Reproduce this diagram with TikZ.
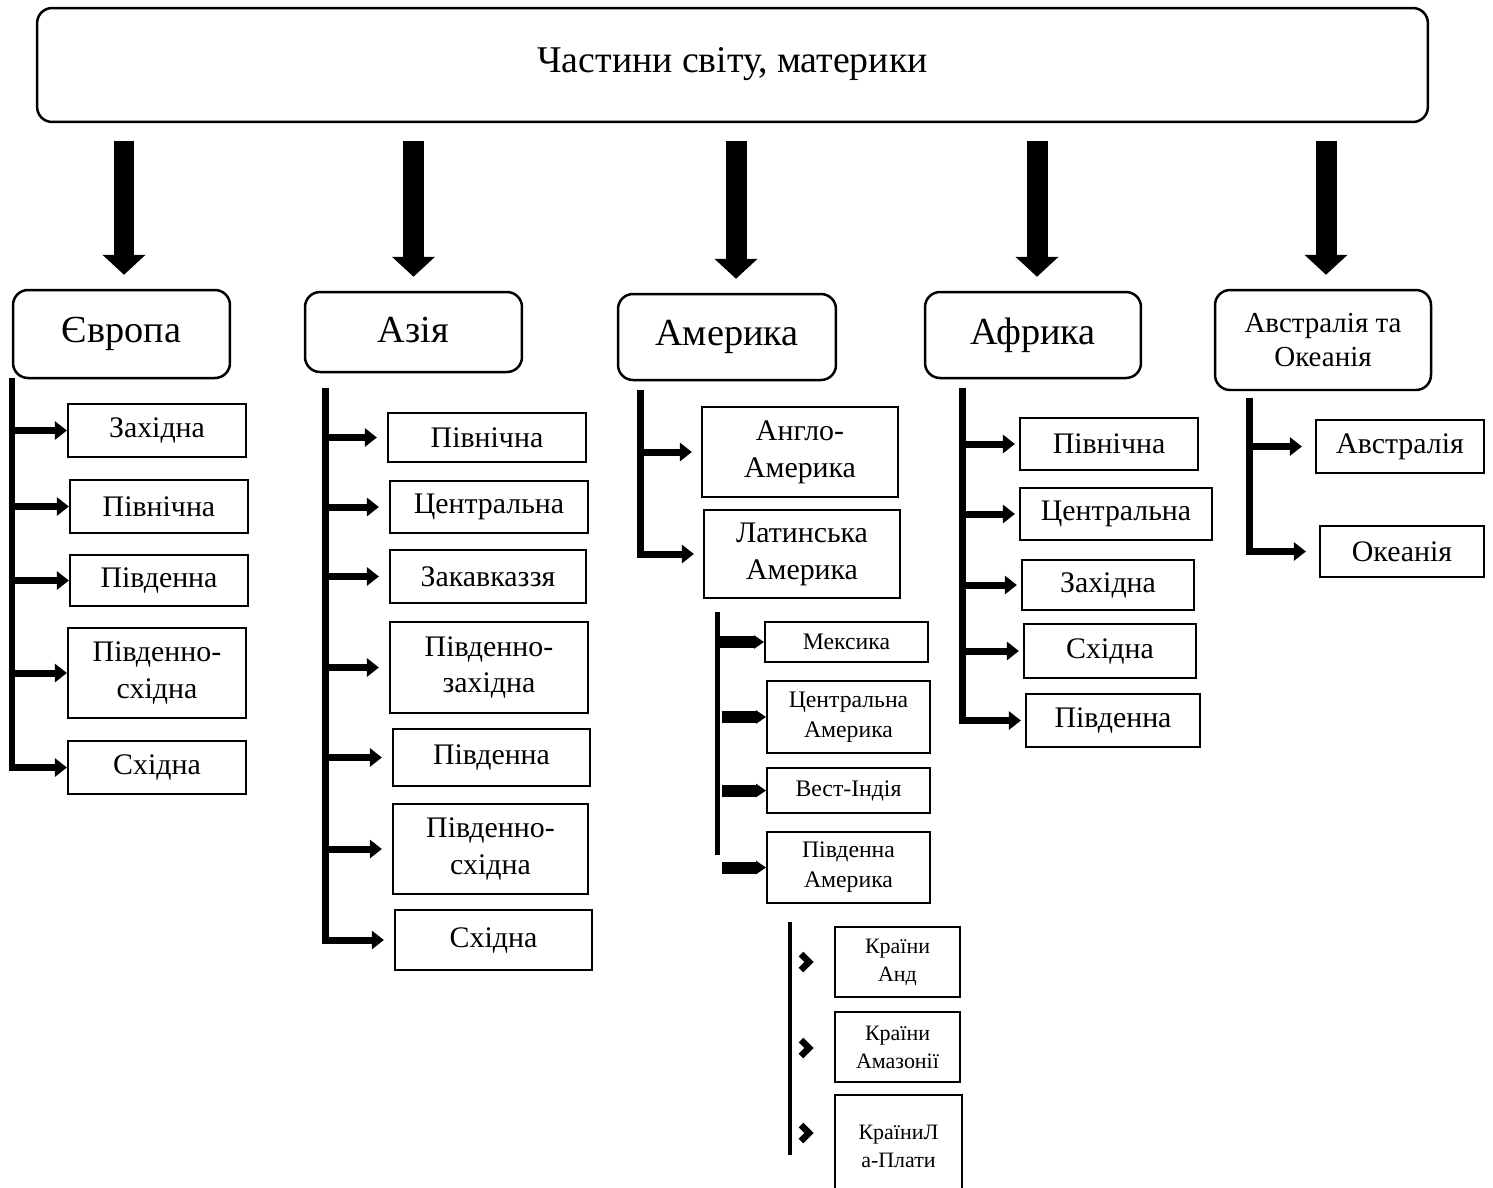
\documentclass[tikz,border=0pt]{standalone}
\usepackage{fontspec}
\setmainfont{Liberation Serif}
\usetikzlibrary{arrows.meta}

\begin{document}
\begin{tikzpicture}[x=0.02cm,y=-0.02cm,
	rbox/.style={draw, line width=0.05cm, rounded corners=0.3cm, align=center, inner sep=0pt},
	cbox/.style={rbox, font=\fontsize{21.8}{25}\selectfont},
	sbox/.style={draw, line width=0.045cm, align=center, inner sep=0pt, font=\fontsize{17}{21}\selectfont},
	lbox/.style={sbox, line width=0.04cm, font=\fontsize{13.5}{17}\selectfont},
	kbox/.style={sbox, line width=0.04cm, font=\fontsize{12.5}{16}\selectfont},
	bigarrow/.style={line width=0.42cm, -{Triangle[length=0.4cm,width=0.84cm]}, shorten <=0.36cm, shorten >=0.28cm},
	trunk/.style={line width=0.14cm},
	branch/.style={line width=0.14cm, -{Triangle[length=0.24cm,width=0.36cm]}},
	pent/.style={line width=0.24cm, -{Triangle[length=0.2cm,width=0.26cm]}},
	chev/.style={line width=0.13cm, miter limit=6}]
	\useasboundingbox (0,0) rectangle (1493,1187);
	% top
	\node[rbox, minimum width=27.82cm, minimum height=2.28cm, font=\fontsize{21.5}{25}\selectfont] (title) at (732.5,65) {\raisebox{0.2cm}{Частини світу, материки}};
	% continents
	\node[cbox, minimum width=4.34cm, minimum height=1.76cm] (eu) at (121.5,334) {\raisebox{0.12cm}{Європа}};
	\node[cbox, minimum width=4.34cm, minimum height=1.6cm] (as) at (413.5,332) {\raisebox{0.08cm}{Азія}};
	\node[cbox, minimum width=4.36cm, minimum height=1.72cm] (am) at (727,337) {\raisebox{0.14cm}{Америка}};
	\node[cbox, minimum width=4.32cm, minimum height=1.72cm] (af) at (1033,335) {\raisebox{0.1cm}{Африка}};
	\node[rbox, minimum width=4.32cm, minimum height=2.0cm, font=\fontsize{16.5}{19}\selectfont] (au) at (1323,340) {Австралія та\\Океанія};
	\draw[bigarrow] ([xshift=0.05cm]eu.north |- title.south) -- ([xshift=0.05cm]eu.north);
	\draw[bigarrow] (as.north |- title.south) -- (as.north);
	\draw[bigarrow] ([xshift=0.18cm]am.north |- title.south) -- ([xshift=0.18cm]am.north);
	\draw[bigarrow] ([xshift=0.08cm]af.north |- title.south) -- ([xshift=0.08cm]af.north);
	\draw[bigarrow] ([xshift=0.06cm]au.north |- title.south) -- ([xshift=0.06cm]au.north);
	% Europe
	\node[sbox, minimum width=3.56cm, minimum height=1.06cm] (eu1) at (157,430.5) {Західна};
	\node[sbox, minimum width=3.56cm, minimum height=1.06cm] (eu2) at (159,506.5) {Північна};
	\node[sbox, minimum width=3.56cm, minimum height=1.02cm] (eu3) at (159,580.5) {Південна};
	\node[sbox, minimum width=3.56cm, minimum height=1.8cm] (eu4) at (157,673) {Південно-\\східна};
	\node[sbox, minimum width=3.56cm, minimum height=1.06cm] (eu5) at (157,767.5) {Східна};
	\coordinate (euT) at (12,378);
	\draw[trunk] (euT) -- (euT |- eu5.west);
	\foreach \n in {eu1,eu2,eu3,eu4,eu5}
		\draw[branch] ([xshift=-0.07cm]euT |- \n.west) -- (\n.west);
	% Asia
	\node[sbox, minimum width=3.96cm, minimum height=0.98cm] (as1) at (487,437.5) {Північна};
	\node[sbox, minimum width=3.96cm, minimum height=1.04cm] (as2) at (489,507) {Центральна};
	\node[sbox, minimum width=3.92cm, minimum height=1.06cm] (as3) at (488,576.5) {Закавказзя};
	\node[sbox, minimum width=3.96cm, minimum height=1.82cm] (as4) at (489,667.5) {Південно-\\західна};
	\node[sbox, minimum width=3.94cm, minimum height=1.14cm] (as5) at (491.5,757.5) {Південна};
	\node[sbox, minimum width=3.9cm, minimum height=1.8cm] (as6) at (490.5,849) {Південно-\\східна};
	\node[sbox, minimum width=3.94cm, minimum height=1.2cm] (as7) at (493.5,940) {Східна};
	\coordinate (asT) at (325,388);
	\draw[trunk] (asT) -- (asT |- as7.west);
	\foreach \n in {as1,as2,as3,as4,as5,as6,as7}
		\draw[branch, shorten >=0.2cm] ([xshift=-0.07cm]asT |- \n.west) -- (\n.west);
	% America
	\node[sbox, minimum width=3.92cm, minimum height=1.8cm] (am1) at (800,452) {Англо-\\Америка};
	\node[sbox, minimum width=3.92cm, minimum height=1.76cm] (am2) at (802,554) {Латинська\\Америка};
	\coordinate (amT) at (640,390);
	\draw[trunk] (amT) -- (amT |- am2.west);
	\foreach \n in {am1,am2}
		\draw[branch, shorten >=0.18cm] ([xshift=-0.07cm]amT |- \n.west) -- (\n.west);
	% Latin America
	\node[lbox, minimum width=3.26cm, minimum height=0.8cm] (la1) at (846.5,642) {\raisebox{-0.06cm}{Мексика}};
	\node[lbox, minimum width=3.26cm, minimum height=1.44cm] (la2) at (848.5,717) {Центральна\\Америка};
	\node[lbox, minimum width=3.26cm, minimum height=0.9cm] (la3) at (848.5,790.5) {Вест-Індія};
	\node[lbox, minimum width=3.26cm, minimum height=1.42cm] (la4) at (848.5,867.5) {Південна\\Америка};
	\coordinate (laT) at (717,612);
	\draw[line width=0.1cm] (laT) -- (717,855);
	\draw[pent] (laT |- la1.west) -- (la1.west);
	\foreach \n in {la2,la3,la4}
		\draw[pent] ([xshift=0.1cm]laT |- \n.west) -- (\n.west);
	% South America
	\node[kbox, minimum width=2.5cm, minimum height=1.4cm] (sa1) at (897.5,962) {Країни\\Анд};
	\node[kbox, minimum width=2.5cm, minimum height=1.4cm] (sa2) at (897.5,1047) {Країни\\Амазонії};
	\node[kbox, minimum width=2.54cm, minimum height=2.06cm] (sa3) at (898.5,1146) {КраїниЛ\\а-Плати};
	\coordinate (saT) at (790,922);
	\draw[line width=0.08cm] (saT) -- (790,1155);
	\foreach \n/\y in {sa1/962,sa2/1048,sa3/1133}
		\draw[chev] (801,\y-8) -- (809,\y) -- (801,\y+8);
	% Africa
	\node[sbox, minimum width=3.56cm, minimum height=1.04cm] (af1) at (1109,444) {Північна};
	\node[sbox, minimum width=3.84cm, minimum height=1.04cm] (af2) at (1116,514) {Центральна};
	\node[sbox, minimum width=3.44cm, minimum height=1.0cm] (af3) at (1108,585) {Західна};
	\node[sbox, minimum width=3.44cm, minimum height=1.08cm] (af4) at (1110,651) {Східна};
	\node[sbox, minimum width=3.48cm, minimum height=1.06cm] (af5) at (1113,720.5) {Південна};
	\coordinate (afT) at (962,388);
	\draw[trunk] (afT) -- (afT |- af5.west);
	\foreach \n in {af1,af2,af3,af4,af5}
		\draw[branch, shorten >=0.08cm] ([xshift=-0.07cm]afT |- \n.west) -- (\n.west);
	% Australia
	\node[sbox, minimum width=3.36cm, minimum height=1.06cm] (au1) at (1400,446.5) {Австралія};
	\node[sbox, minimum width=3.28cm, minimum height=1.02cm] (au2) at (1402,551.5) {Океанія};
	\coordinate (auT) at (1249,398);
	\draw[trunk] (auT) -- (auT |- au2.west);
	\foreach \n in {au1,au2}
		\draw[branch, shorten >=0.26cm] ([xshift=-0.07cm]auT |- \n.west) -- (\n.west);
\end{tikzpicture}
\end{document}
